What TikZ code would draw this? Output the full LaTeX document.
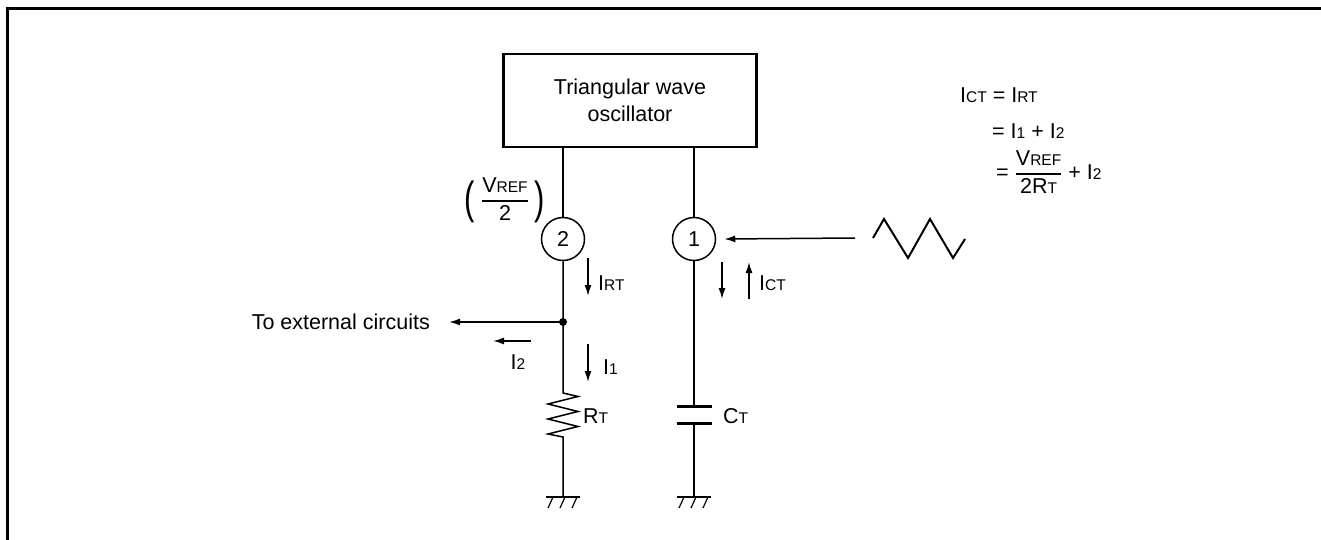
\documentclass[tikz,border=0pt]{standalone}
\usepackage{amsmath,graphicx}
\usepackage{fontspec}
\setmainfont{Liberation Sans}
\usetikzlibrary{arrows.meta,positioning}
\newcommand\lo[1]{{\fontsize{15.5}{15.5}\selectfont #1}}
\newcommand\ratio[2]{$\genfrac{}{}{1.3pt}{0}{\mbox{#1}}{\mbox{#2}}$}
\newcommand\tallpar[1]{\scalebox{1}[1.45]{#1}}
\tikzset{
    wire/.style={line width=1.5pt},
    arr/.style={line width=1.5pt,-{Latex[length=11pt,width=7pt]}},
    pin/.style={circle,draw,line width=1.5pt,minimum size=43pt,inner sep=0pt},
    lbl/.style={inner sep=0pt},
    paren/.style={inner sep=0pt,font=\fontsize{31}{31}\selectfont},
    plate/.style={line width=3pt},
}
\begin{document}
\begin{tikzpicture}[x=1pt,y=-1pt,font=\fontsize{21.5}{27}\selectfont]
            \useasboundingbox (0,0) rectangle (1321,540);
            \draw[line width=3pt] (7,541) -- (7,9) -- (1322,9);
            \node[draw,line width=2.5pt,minimum width=253pt,minimum height=93pt,align=center] (osc) at (630,100.5) {Triangular wave\\oscillator};
            \node[pin] (p2) at (563,239) {2};
            \node[pin] (p1) at (694,239) {1};
            \node[lbl] (vref) at (505,199) {\ratio{V\lo{REF}}{2}};
            \node[paren] (lpar) at (470,202) {\tallpar{(}};
            \node[paren] (rpar) at (540,202) {\tallpar{)}};
            \coordinate (jn) at (563,322);
            \coordinate (rtop) at (563,393);
            \coordinate (rbot) at (563,437);
            \coordinate (g2) at (563,497);
            \coordinate (ctop) at (694,406);
            \coordinate (cbot) at (694,423);
            \coordinate (g1) at (694,497);
            \draw[wire] (p2 |- osc.south) -- (p2.north);
            \draw[wire] (p1 |- osc.south) -- (p1.north);
            \draw[wire] (p2.south) -- (jn) -- (rtop) -- ++(15,3.5) -- ++(-30,7.5) -- ++(30,7.5) -- ++(-30,7.5) -- ++(30,7.5) -- ++(-30,7.5) -- (rbot) -- (g2);
            \draw[wire] (p1.south) -- (ctop);
            \draw[wire] (cbot) -- (g1);
            \draw[plate] ([xshift=-17.5pt]ctop) -- ([xshift=17.5pt]ctop);
            \draw[plate] ([xshift=-17.5pt]cbot) -- ([xshift=17.5pt]cbot);
            \foreach \g in {g1,g2}{
                \draw[line width=2.5pt] ([xshift=-17pt]\g) -- ([xshift=17pt]\g);
                \foreach \dx in {-10,2,14}
                    \draw[line width=1.2pt] ([xshift=\dx pt]\g) -- ++(-5,11);
            }
            \fill (jn) circle (4);
            \node[lbl,anchor=east] (ext) at (430,322) {To external circuits};
            \draw[arr] (jn) -- ([xshift=19pt]ext.east);
            \node[lbl,anchor=west] (irt) at (598,283) {I\lo{RT}};
            \draw[arr] (588,258) -- (588,296);
            \node[lbl,anchor=west] (ict) at (759,283) {I\lo{CT}};
            \draw[arr] (722,262) -- (722,299);
            \draw[arr] (749,299) -- (749,262);
            \node[lbl] (i2) at (518,362) {I\lo{2}};
            \draw[arr] (531,341) -- (493,341);
            \node[lbl,anchor=west] (i1) at (603,367) {I\lo{1}};
            \draw[arr] (588,344) -- (588,382);
            \node[lbl,anchor=west] (rt) at (583,416) {R\lo{T}};
            \node[lbl,anchor=west] (ct) at (723,416) {C\lo{T}};
            \coordinate (wv) at (873,238);
            \draw[line width=2pt] (wv) -- ++(11,-19) -- ++(24,39) -- ++(22,-39) -- ++(23,39) -- ++(12,-19);
            \draw[arr] ([xshift=-18pt]wv) -- ([xshift=8pt]p1.east);
            \node[lbl,anchor=west] (eq1) at (960,95) {I\lo{CT} = I\lo{RT}};
            \node[lbl,anchor=west] (eq2) at (992,131) {= I\lo{1} + I\lo{2}};
            \node[lbl,anchor=west] (eq3) at (996,172) {= \ratio{V\lo{REF}}{2R\lo{T}} + I\lo{2}};
        \end{tikzpicture}
\end{document}
